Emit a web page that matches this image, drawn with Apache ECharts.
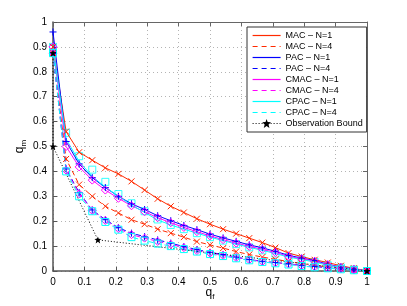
<!DOCTYPE html>
<html><head><meta charset="utf-8">
<script src="https://cdn.jsdelivr.net/npm/echarts@6/dist/echarts.min.js"></script>
<style>html,body{margin:0;padding:0;background:#fff}#c{width:407px;height:306px}</style>
</head><body><div id="c"></div>
<script>
const qf = [0, 0.0417, 0.0833, 0.125, 0.1667, 0.2083, 0.25, 0.2917, 0.3333, 0.375, 0.4167, 0.4583, 0.5,
            0.5417, 0.5833, 0.625, 0.6667, 0.7083, 0.75, 0.7917, 0.8333, 0.875, 0.9167, 0.9583, 1];
const mac1  = [0.90, 0.56, 0.477, 0.445, 0.414, 0.39, 0.36, 0.325, 0.29, 0.26, 0.235, 0.21, 0.188,
               0.168, 0.15, 0.132, 0.114, 0.094, 0.072, 0.058, 0.045, 0.034, 0.021, 0.011, 0];
const mac4  = [0.875, 0.45, 0.347, 0.30, 0.26, 0.233, 0.206, 0.188, 0.168, 0.152, 0.136, 0.118, 0.105,
               0.092, 0.078, 0.066, 0.056, 0.047, 0.038, 0.03, 0.023, 0.016, 0.01, 0.005, 0];
const pac1  = [0.96, 0.52, 0.43, 0.375, 0.335, 0.30, 0.27, 0.247, 0.222, 0.202, 0.183, 0.166, 0.148,
               0.133, 0.119, 0.105, 0.093, 0.079, 0.063, 0.052, 0.042, 0.027, 0.016, 0.008, 0];
const pac4  = [0.875, 0.41, 0.315, 0.245, 0.206, 0.174, 0.152, 0.138, 0.125, 0.112, 0.098, 0.086, 0.075,
               0.066, 0.056, 0.046, 0.039, 0.034, 0.029, 0.023, 0.018, 0.013, 0.008, 0.004, 0];
const cmac1 = [0.90, 0.50, 0.418, 0.365, 0.325, 0.292, 0.262, 0.238, 0.214, 0.194, 0.175, 0.158, 0.141,
               0.126, 0.112, 0.099, 0.087, 0.074, 0.059, 0.049, 0.039, 0.025, 0.015, 0.007, 0];
const cmac4 = [0.875, 0.405, 0.31, 0.243, 0.203, 0.17, 0.146, 0.132, 0.119, 0.107, 0.094, 0.082, 0.072,
               0.063, 0.054, 0.045, 0.038, 0.033, 0.028, 0.022, 0.017, 0.012, 0.008, 0.004, 0];
const cpac1 = [0.90, 0.53, 0.44, 0.38, 0.337, 0.30, 0.265, 0.235, 0.205, 0.185, 0.168, 0.152, 0.136,
               0.122, 0.108, 0.095, 0.083, 0.07, 0.056, 0.046, 0.036, 0.023, 0.014, 0.006, 0];
const cpac1Marks = [0.90, 0.555, 0.461, 0.407, 0.358, 0.309, 0.272, 0.24, 0.207, 0.185, 0.168, 0.152, 0.136,
               0.122, 0.108, 0.095, 0.083, 0.07, 0.056, 0.046, 0.036, 0.023, 0.014, 0.006, 0];
const cpac4 = [0.875, 0.40, 0.30, 0.24, 0.197, 0.166, 0.136, 0.122, 0.11, 0.10, 0.088, 0.078, 0.068,
               0.06, 0.051, 0.043, 0.036, 0.031, 0.026, 0.02, 0.015, 0.011, 0.007, 0.003, 0];
const boundQ = [0, 0, 0.143, 1];
const boundM = [0.875, 0.5, 0.125, 0];
const names = ['MAC – N=1','MAC – N=4','PAC – N=1','PAC – N=4','CMAC – N=1','CMAC – N=4','CPAC – N=1','CPAC – N=4','Observation Bound'];
const ticks = ['0','0.1','0.2','0.3','0.4','0.5','0.6','0.7','0.8','0.9','1'];

const RED = '#ff2a00', BLUE = '#0000ff', MAG = '#ff00ff', CYAN = '#00ffff';
const legColors = [RED, RED, BLUE, BLUE, MAG, MAG, CYAN, CYAN];
const X = 'path://M0,0L10,10M10,0L0,10';
const PLUS = 'path://M5,0L5,10M0,5L10,5';
const STAR = 'path://M5,0L6.2,3.4L10,3.6L7.2,6L8.2,10L5,7.8L1.8,10L2.8,6L0,3.6L3.8,3.4Z';
const pairs = (xs, ys) => xs.map((x, i) => [x, ys[i]]);

function lineSeries(name, vals, color, dashed, symbol, size, showSym) {
  return {
    name, type: 'line', data: pairs(qf, vals),
    symbol, symbolSize: size, showSymbol: showSym, animation: false,
    lineStyle: { color, width: 1, type: dashed ? [5, 3] : 'solid' },
    itemStyle: { color: 'rgba(0,0,0,0)', borderColor: color, borderWidth: 1 },
    emphasis: { disabled: true }
  };
}
const tickLbl = v => {
  const i = Math.round(v * 10);
  return (Math.abs(v * 10 - i) < 1e-6) ? ticks[i] : '';
};
const axisCommon = {
  type: 'value', min: 0, max: 1, interval: 0.1,
  axisLine: { show: true, onZero: false, lineStyle: { color: '#555', width: 1.5 } },
  axisTick: { show: true, inside: true, length: 4, lineStyle: { color: '#555' } },
  axisLabel: { color: '#000', fontSize: 10, fontFamily: 'Liberation Sans', margin: 6, formatter: tickLbl },
  splitLine: { show: true, lineStyle: { color: '#b4b4b4', type: [1, 3], width: 1 } }
};
const axisMirror = {
  type: 'value', min: 0, max: 1, interval: 0.1,
  axisLine: { show: true, onZero: false, lineStyle: { color: '#666', width: 1 } },
  axisTick: { show: true, inside: true, length: 4, lineStyle: { color: '#666' } },
  axisLabel: { show: false }, splitLine: { show: false }
};
const nameRich = sub => ({
  rich: { q: { fontSize: 12, fontFamily: 'Liberation Sans', color: '#000' },
          s: { fontSize: 8, fontFamily: 'Liberation Sans', color: '#000', padding: [8, 0, 0, 0] } }
});

const chart = echarts.init(document.getElementById('c'), null, { renderer: 'canvas' });
chart.setOption({
  backgroundColor: '#fff',
  animation: false,
  grid: { left: 53, right: 40, top: 22, bottom: 35, containLabel: false, outerBoundsMode: 'none' },
  xAxis: [
    Object.assign({}, axisCommon, {
      position: 'bottom', name: '{q|q}{s|f}', nameLocation: 'middle', nameGap: 14,
      nameMoveOverlap: false, nameTextStyle: nameRich()
    }),
    Object.assign({}, axisMirror, { position: 'top' })
  ],
  yAxis: [
    Object.assign({}, axisCommon, {
      position: 'left', name: '{q|q}{s|m}', nameLocation: 'middle', nameGap: 25,
      nameMoveOverlap: false, nameTextStyle: nameRich()
    }),
    Object.assign({}, axisMirror, { position: 'right' })
  ],
  legend: {
    orient: 'vertical', left: 247, top: 27, padding: [3, 4, 3, 5],
    itemWidth: 28, itemHeight: 11, itemGap: 0,
    backgroundColor: '#fff', borderColor: '#333', borderWidth: 1, borderRadius: 0,
    textStyle: { fontSize: 9, fontFamily: 'Liberation Sans', color: '#000', lineHeight: 11 },
    selectedMode: false,
    data: names.map((n, i) => i < 8 ? {
        name: n, itemStyle: { opacity: 0 },
        lineStyle: { color: legColors[i], width: 1.2, type: (i % 2) ? [5, 4] : 'solid' }
      } : { name: n, itemStyle: { color: '#000', borderColor: '#000', opacity: 1 },
            lineStyle: { color: '#000', width: 1, type: [1, 2] } })
  },
  series: [
    lineSeries(names[0], mac1, RED, false, X, 6, true),
    lineSeries(names[1], mac4, RED, true, X, 6, true),
    lineSeries(names[2], pac1, BLUE, false, PLUS, 7, true),
    lineSeries(names[3], pac4, BLUE, true, PLUS, 7, true),
    lineSeries(names[4], cmac1, MAG, false, 'diamond', 8, true),
    lineSeries(names[5], cmac4, MAG, true, 'diamond', 8, true),
    lineSeries(names[6], cpac1, CYAN, false, 'rect', 7, false),
    {
      name: 'cpac1-markers', type: 'scatter', data: pairs(qf, cpac1Marks),
      symbol: 'rect', symbolSize: 7, animation: false,
      itemStyle: { color: 'rgba(0,0,0,0)', borderColor: CYAN, borderWidth: 1 },
      emphasis: { disabled: true }
    },
    lineSeries(names[7], cpac4, CYAN, true, 'rect', 7, true),
    {
      name: names[8], type: 'line', data: pairs(boundQ, boundM),
      symbol: STAR, symbolSize: 7, showSymbol: true, animation: false,
      lineStyle: { color: '#000', width: 1, type: [1, 2] },
      itemStyle: { color: '#000' }, emphasis: { disabled: true }
    }
  ]
});
</script></body></html>
